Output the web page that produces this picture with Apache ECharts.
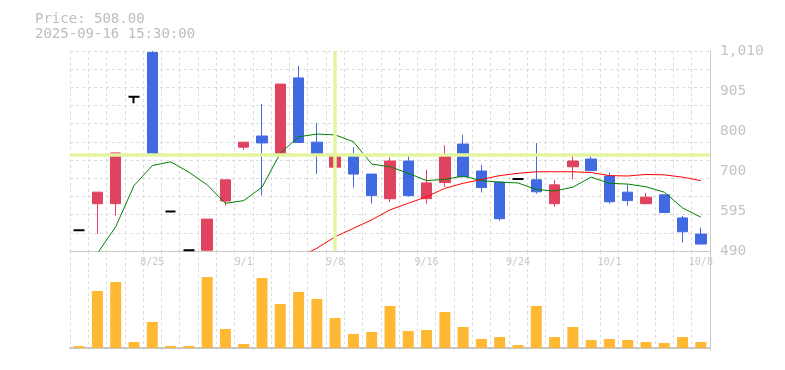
<!DOCTYPE html>
<html>
<head>
<meta charset="utf-8">
<script src="https://cdn.jsdelivr.net/npm/echarts@6/dist/echarts.min.js"></script>
<style>
html,body{margin:0;padding:0;background:#fff;}
#chart{width:785px;height:370px;}
</style>
</head>
<body>
<div id="chart"></div>
<script>
const dates = ['8/19','8/20','8/21','8/22','8/25','8/26','8/27','8/28','8/29','9/1','9/2','9/3','9/4','9/5','9/8','9/9','9/10','9/11','9/12','9/16','9/17','9/18','9/19','9/22','9/24','9/25','9/26','9/29','9/30','10/1','10/2','10/3','10/6','10/7','10/8'];
const opens  = [544,613,613,891,1006,593,492,492,620,760,789,742,940,773,708,737,690,626,724,626,668,768,698,669,677,675,613,709,729,685,643,613,636,576,534];
const closes = [544,643,745,891,742,593,492,573,675,773,771,924,772,740,740,690,634,724,634,667,737,683,655,574,677,644,662,724,699,618,621,630,590,540,508];
const lows   = [544,535,582,874,742,593,492,492,608,753,634,742,772,690,690,655,613,617,631,613,657,683,642,569,677,639,605,676,699,613,608,611,590,512,508];
const highs  = [544,643,745,891,1010,593,492,573,675,773,872,924,971,823,818,760,690,734,740,701,765,792,714,672,677,771,675,740,740,694,663,641,636,581,551];
const maShort = [null,484,553,660,712,722,695,662,614,621,656,744,787,794,792,774,716,709,692,673,676,685,673,669,667,650,646,656,682,666,664,657,643,602,578];
const maLong  = [null,null,null,null,null,null,null,null,null,null,null,null,474,497,527,549,571,597,614,631,653,666,676,686,692,696,696,696,694,686,685,689,688,682,673];
const volumes = [2,57,66,6,26,2,2,71,19,4,70,44,56,49,30,14,16,42,17,18,36,21,9,11,3,42,11,21,8,9,8,6,5,11,6];
const priceTicks = {min:490, max:1010, step:104};
const cursorDate = '9/8';
const cursorPrice = 740;
const titleLines = ['Price: 508.00','2025-09-16 15:30:00'];

const candleData = dates.map((d,i)=>{
  const item = {value:[opens[i],closes[i],lows[i],highs[i]]};
  if (opens[i] === closes[i]) item.itemStyle = {borderWidth:2};
  return item;
});
const mono = '"DejaVu Sans Mono", "Liberation Mono", monospace';
const gridLine = {show:true, interval:0, lineStyle:{color:'#dcdcdc', type:[3,3], width:1}};

const chart = echarts.init(document.getElementById('chart'), null, {renderer:'canvas'});
chart.setOption({
  animation:false,
  backgroundColor:'#fff',
  title:{
    text:titleLines.join('\n'), left:30, top:7,
    textStyle:{fontFamily:mono, fontSize:14, fontWeight:'normal', color:'#bdbdbd', lineHeight:15}
  },
  grid:[
    {left:70, right:75, top:51, height:200},
    {left:70, right:75, top:251, height:99}
  ],
  xAxis:[
    {type:'category', gridIndex:0, data:dates, boundaryGap:true,
     axisLine:{show:true, lineStyle:{color:'#c8c8c8'}},
     axisTick:{show:false},
     axisLabel:{interval:(i)=>i%5===4, color:'#c8c8c8', fontFamily:mono, fontSize:10, margin:6},
     splitLine:gridLine},
    {type:'category', gridIndex:1, data:dates, boundaryGap:true,
     axisLine:{show:true, lineStyle:{color:'#c8c8c8', width:2}},
     axisTick:{show:false}, axisLabel:{show:false},
     splitLine:gridLine}
  ],
  yAxis:[
    {type:'value', gridIndex:0, position:'right', min:priceTicks.min, max:priceTicks.max, interval:priceTicks.step,
     axisLine:{show:true, lineStyle:{color:'#c8c8c8'}}, axisTick:{show:false},
     splitLine:{show:false},
     axisLabel:{color:'#c4c4c4', fontFamily:mono, fontSize:14.5, margin:10,
       formatter:(v)=>(Math.round(v/5)*5).toLocaleString('en-US')}},
    {type:'value', gridIndex:0, position:'left', min:0, max:11, interval:1,
     axisLine:{show:false}, axisTick:{show:false}, axisLabel:{show:false},
     splitLine:{show:true, lineStyle:{color:'#dcdcdc', type:[3,3], width:1}}},
    {type:'value', gridIndex:1, position:'right', min:-2, max:97,
     axisLine:{show:true, lineStyle:{color:'#c8c8c8'}}, axisTick:{show:false},
     axisLabel:{show:false}, splitLine:{show:false}}
  ],
  series:[
    {type:'candlestick', xAxisIndex:0, yAxisIndex:0, data:candleData, barWidth:11,
     itemStyle:{color:'#e0435f', color0:'#4169e1', borderColor:'#e0435f', borderColor0:'#4169e1', borderColorDoji:'#000', borderWidth:1},
     markLine:{silent:true, symbol:['none','none'], label:{show:false}, animation:false,
       lineStyle:{color:'#e4f5a0', width:3.5, type:'solid'},
       data:[{xAxis:cursorDate},{yAxis:cursorPrice}]}},
    {type:'line', xAxisIndex:0, yAxisIndex:0, data:maShort, showSymbol:false, symbol:'none',
     lineStyle:{color:'#008000', width:1}, z:3},
    {type:'line', xAxisIndex:0, yAxisIndex:0, data:maLong, showSymbol:false, symbol:'none',
     lineStyle:{color:'#ff0000', width:1}, z:3},
    {type:'bar', xAxisIndex:1, yAxisIndex:2, data:volumes, barWidth:11,
     itemStyle:{color:'#ffb833'}}
  ]
});
</script>
</body>
</html>
